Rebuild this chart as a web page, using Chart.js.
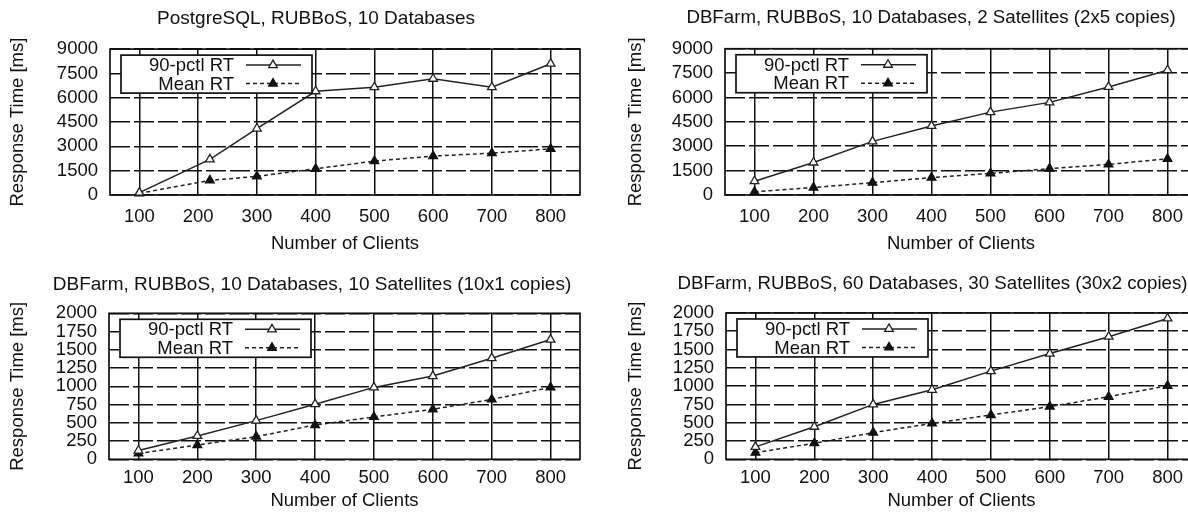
<!DOCTYPE html>
<html>
<head>
<meta charset="utf-8">
<script src="https://cdn.jsdelivr.net/npm/chart.js@4/dist/chart.umd.min.js"></script>
<style>
  html, body { margin: 0; padding: 0; background: #fff; overflow: hidden; }
  #wrap { position: relative; width: 1188px; height: 515px; overflow: hidden; }
  canvas { position: absolute; }
</style>
</head>
<body>
<div id="wrap">
  <canvas id="c1"></canvas>
  <canvas id="c2"></canvas>
  <canvas id="c3"></canvas>
  <canvas id="c4"></canvas>
</div>
<script>
// tick labels
const xTicks = [100, 200, 300, 400, 500, 600, 700, 800];
const yTicksTop = [0, 1500, 3000, 4500, 6000, 7500, 9000];
const yTicksBottom = [0, 250, 500, 750, 1000, 1250, 1500, 1750, 2000];

// PostgreSQL, 10 databases (second point sits a bit right of 200)
const pgClients = [100, 220, 300, 400, 500, 600, 700, 800];
const pgP90 = [150, 2200, 4100, 6400, 6650, 7170, 6650, 8100];
const pgMean = [100, 900, 1150, 1620, 2090, 2400, 2580, 2850];

// DBFarm, 10 databases, 2 satellites
const farm2Clients = [100, 200, 300, 400, 500, 600, 700, 800];
const farm2P90 = [850, 2000, 3300, 4250, 5100, 5700, 6650, 7680];
const farm2Mean = [200, 460, 760, 1070, 1330, 1620, 1880, 2230];

// DBFarm, 10 databases, 10 satellites
const farm10Clients = [100, 200, 300, 400, 500, 600, 700, 800];
const farm10P90 = [120, 320, 530, 755, 985, 1140, 1385, 1640];
const farm10Mean = [80, 195, 310, 470, 580, 685, 820, 985];

// DBFarm, 60 databases, 30 satellites
const farm30Clients = [100, 200, 300, 400, 500, 600, 700, 800];
const farm30P90 = [170, 445, 750, 950, 1205, 1445, 1675, 1925];
const farm30Mean = [90, 220, 365, 490, 605, 720, 855, 1005];

const FONT = '"Liberation Sans", Arial, Helvetica, sans-serif';
const INK = '#111';
const FS = 18.5;

Chart.defaults.font.family = FONT;
Chart.defaults.font.size = FS;
Chart.defaults.color = INK;

// box around the plot area
const frame = {
  id: 'frame',
  beforeDatasetsDraw(chart) {
    const a = chart.chartArea;
    const ctx = chart.ctx;
    ctx.save();
    ctx.lineWidth = 1.7;
    ctx.strokeStyle = INK;
    ctx.strokeRect(a.left, a.top, a.right - a.left, a.bottom - a.top);
    ctx.restore();
  }
};

// gnuplot style key: text right aligned, then sample line with marker
const keyBox = {
  id: 'keyBox',
  afterDatasetsDraw(chart) {
    const a = chart.chartArea;
    const ctx = chart.ctx;
    const x0 = a.left + 11, y0 = a.top + 6, w = 191, h = 38;
    ctx.save();
    ctx.fillStyle = '#fff';
    ctx.fillRect(x0, y0, w, h);
    ctx.lineWidth = 1.7;
    ctx.strokeStyle = INK;
    ctx.strokeRect(x0, y0, w, h);
    ctx.font = FS + 'px ' + FONT;
    ctx.textAlign = 'right';
    ctx.textBaseline = 'middle';
    chart.data.datasets.forEach(function (ds, i) {
      const y = y0 + 10 + i * 18.5;
      ctx.fillStyle = INK;
      ctx.fillText(ds.label, x0 + 113, y + 1);
      ctx.strokeStyle = ds.borderColor;
      ctx.lineWidth = ds.borderWidth;
      ctx.setLineDash(ds.borderDash || []);
      ctx.beginPath();
      ctx.moveTo(x0 + 125, y);
      ctx.lineTo(x0 + 180, y);
      ctx.stroke();
      ctx.setLineDash([]);
      ctx.fillStyle = ds.pointBackgroundColor;
      ctx.strokeStyle = ds.pointBorderColor;
      ctx.lineWidth = ds.pointBorderWidth;
      Chart.helpers.drawPoint(ctx, {
        pointStyle: 'triangle', rotation: 0,
        radius: ds.pointRadius, borderWidth: ds.pointBorderWidth
      }, x0 + 152, y);
    });
    ctx.restore();
  }
};

function pts(xs, ys) {
  return xs.map((x, i) => ({ x: x, y: ys[i] }));
}

function makePanel(p) {
  const cv = document.getElementById(p.id);
  cv.width = p.width;
  cv.height = p.height;
  cv.style.left = p.left + 'px';
  cv.style.top = p.top + 'px';
  cv.style.width = p.width + 'px';
  cv.style.height = p.height + 'px';

  return new Chart(cv.getContext('2d'), {
    type: 'line',
    data: {
      datasets: [{
        label: '90-pctl RT',
        data: pts(p.clients, p.p90),
        borderColor: '#222',
        borderWidth: 1.5,
        pointStyle: 'triangle',
        pointRadius: 5,
        pointBorderWidth: 1.3,
        pointBackgroundColor: '#fff',
        pointBorderColor: '#222',
        clip: false
      }, {
        label: 'Mean RT',
        data: pts(p.clients, p.mean),
        borderColor: '#222',
        borderWidth: 1.5,
        borderDash: [4, 3],
        pointStyle: 'triangle',
        pointRadius: 5,
        pointBorderWidth: 1.3,
        pointBackgroundColor: '#111',
        pointBorderColor: '#111',
        clip: false
      }]
    },
    options: {
      responsive: false,
      animation: false,
      devicePixelRatio: 1,
      layout: { padding: 0 },
      plugins: {
        legend: { display: false },
        tooltip: { enabled: false },
        title: {
          display: true,
          text: p.title,
          color: INK,
          font: { size: p.titleSize, weight: 'normal' },
          padding: { top: p.titleTop, bottom: p.titleBottom }
        }
      },
      scales: {
        x: {
          type: 'linear',
          min: 50,
          max: 850,
          afterBuildTicks: function (s) { s.ticks = xTicks.map(v => ({ value: v })); },
          afterFit: function (s) { s.height = p.xAxisH; },
          ticks: { autoSkip: false, maxRotation: 0, padding: p.xTickPad, color: INK,
                   callback: v => String(v) },
          grid: { color: INK, lineWidth: 1.5, drawTicks: false },
          border: { display: false },
          title: {
            display: true, text: 'Number of Clients', color: INK,
            font: { size: FS }, padding: { top: 0, bottom: p.xTitleBottom }
          }
        },
        y: {
          type: 'linear',
          min: 0,
          max: p.yMax,
          afterBuildTicks: function (s) { s.ticks = p.yTicks.map(v => ({ value: v })); },
          afterFit: function (s) { s.width = p.yAxisW; },
          ticks: { autoSkip: false, padding: 12, color: INK, callback: v => String(v) },
          grid: { color: INK, lineWidth: 1.5, drawTicks: false },
          border: { display: false, dash: [20, 4] },
          title: {
            display: true, text: 'Response Time [ms]', color: INK,
            font: { size: FS }, padding: { top: 6.9, bottom: 0 }
          }
        },
        // empty right-hand strip so the title centres over the whole panel
        spacer: {
          type: 'linear',
          position: 'right',
          display: true,
          min: 0,
          max: 1,
          afterFit: function (s) { s.width = p.padRight; },
          ticks: { display: false },
          grid: { display: false },
          border: { display: false }
        }
      }
    },
    plugins: [frame, keyBox]
  });
}

const topRow = { height: 258, titleTop: 6.9, titleBottom: 19.4, xAxisH: 63, xTickPad: 11, xTitleBottom: 3, yTicks: yTicksTop, yMax: 9000 };
const bottomRow = { height: 257, titleTop: 14.9, titleBottom: 17.6, xAxisH: 55.7, xTickPad: 7.6, xTitleBottom: 3, yTicks: yTicksBottom, yMax: 2000 };

makePanel(Object.assign({}, topRow, {
  id: 'c1', left: 0, top: 0, width: 632, yAxisW: 110, padRight: 52, titleSize: 19,
  title: 'PostgreSQL, RUBBoS, 10 Databases',
  clients: pgClients, p90: pgP90, mean: pgMean
}));
makePanel(Object.assign({}, topRow, {
  id: 'c2', left: 618, top: 0, width: 626, yAxisW: 107, padRight: 47, titleSize: 18.7,
  title: 'DBFarm, RUBBoS, 10 Databases, 2 Satellites (2x5 copies)',
  clients: farm2Clients, p90: farm2P90, mean: farm2Mean
}));
makePanel(Object.assign({}, bottomRow, {
  id: 'c3', left: 0, top: 258, width: 624, yAxisW: 109, padRight: 44, titleSize: 19,
  title: 'DBFarm, RUBBoS, 10 Databases, 10 Satellites (10x1 copies)',
  clients: farm10Clients, p90: farm10P90, mean: farm10Mean
}));
makePanel(Object.assign({}, bottomRow, {
  id: 'c4', left: 618, top: 258, width: 629, yAxisW: 108, padRight: 50, titleSize: 18.7,
  title: 'DBFarm, RUBBoS, 60 Databases, 30 Satellites (30x2 copies)',
  clients: farm30Clients, p90: farm30P90, mean: farm30Mean
}));
</script>
</body>
</html>
